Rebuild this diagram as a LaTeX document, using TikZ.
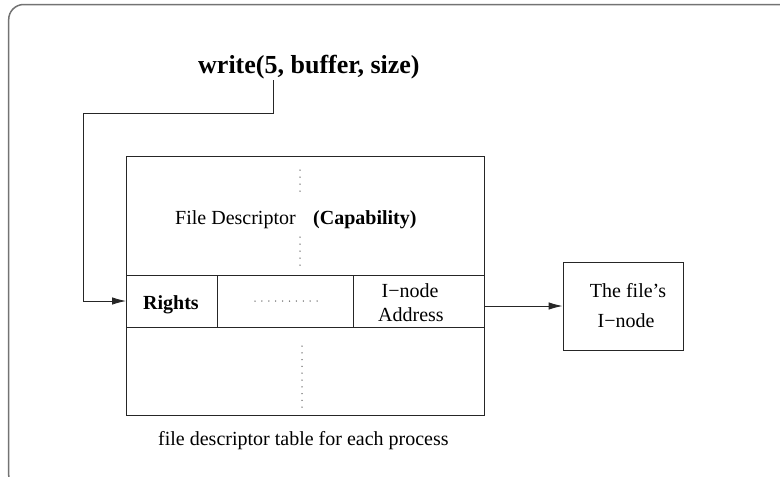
\documentclass[tikz,border=0pt]{standalone}
\usepackage{fontspec}
\setmainfont{Liberation Serif}
\usetikzlibrary{arrows.meta}

\tikzset{
  cell/.style={draw=black!85, line width=0.9pt, minimum width=#1, inner sep=0pt},
  lbl/.style={inner sep=0pt, anchor=base west, font=\fontsize{20}{24}\selectfont},
  lblc/.style={inner sep=0pt, anchor=base, font=\fontsize{20}{24}\selectfont},
  conn/.style={line width=0.9pt, black!85, -{Latex[length=14pt,width=7.5pt]}},
  frame/.style={draw=black!55, line width=1.5pt, rounded corners=15pt},
  dot/.style={fill=black!60, draw=none}
}

\begin{document}
\begin{tikzpicture}[x=1pt, y=-1pt]
  \useasboundingbox (0,0) rectangle (780,477);
  \begin{scope}
    \clip (0,0) rectangle (780,477);
    \draw[frame] (8.7,4.5) rectangle (800,490);
  \end{scope}

  % system call
  \node[lbl, font=\fontsize{26}{30}\selectfont\bfseries] (call) at (198,73) {write(5, buffer, size)};
  \coordinate (fd) at (273,80);

  % descriptor table and its highlighted row
  \node[cell=357.5pt, minimum height=259pt] (table) at (305.25,285.5) {};
  \node[cell=91pt, minimum height=52pt] (rights) at (172,301) {};
  \node[cell=135.5pt, minimum height=52pt] (mid) at (285.25,301) {};
  \node[cell=131pt, minimum height=52pt] (addr) at (418.5,301) {};

  \node[lbl] (fdesc) at (175,224) {File Descriptor};
  \node[lbl, font=\fontsize{20}{24}\selectfont\bfseries] (cap) at (313,224) {(Capability)};
  \node[lbl, font=\fontsize{20}{24}\selectfont\bfseries] (rtxt) at (143,309) {Rights};
  \node[lblc] (a1) at (410,297) {I−node};
  \node[lblc] (a2) at (411,321) {Address};

  % elision dots
  \foreach \y in {170,177,184,191,237,244,251,258,265}
    \fill[dot] (300,\y) circle (0.75pt);
  \foreach \i in {0,...,9}
    \fill[dot] (302,346+6.8*\i) circle (0.75pt);
  \foreach \i in {0,...,9}
    \fill[dot] (255+6.9*\i,301) circle (0.75pt);

  % inode box
  \node[cell=120pt, minimum height=88pt] (inode) at (623,306) {};
  \node[lblc] (i1) at (628,297) {The file’s};
  \node[lblc] (i2) at (626,327) {I−node};

  \node[lbl] (caption) at (158,445) {file descriptor table for each process};

  % connectors
  \draw[conn] (fd) |- (83,113) |- (rights.west);
  \draw[conn] (addr.east |- inode.west) -- (inode.west);
\end{tikzpicture}
\end{document}
